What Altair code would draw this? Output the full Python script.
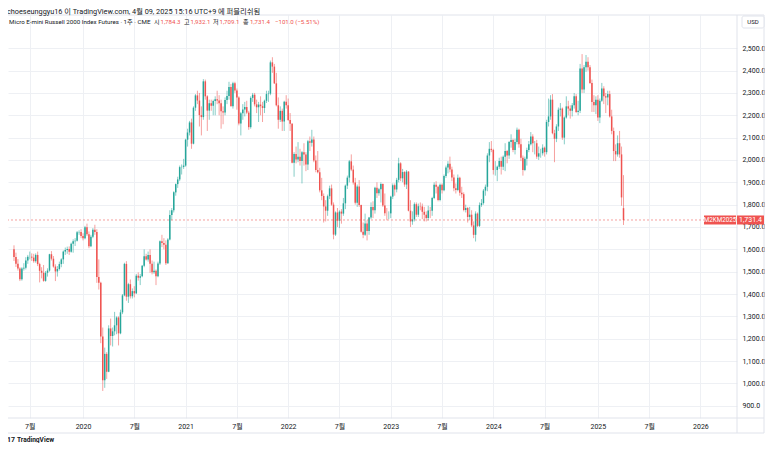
import altair as alt
import pandas as pd

# ---------------- data (weekly candles) ----------------
start_date = "2019-05-06"

opens_2019 = [1600,1566,1535,1514,1466,1514,1518,1550,1567,1567,1563,1547,1575,1534,1504,1495,1459,1495,1505,1578,1558,1523,1501,1512,1534,1555,1590,1597,1601,1589,1625,1636,1638,1676,1678]
highs_2019 = [1618,1585,1556,1520,1520,1538,1565,1575,1590,1582,1580,1582,1590,1540,1520,1530,1503,1515,1580,1592,1570,1533,1525,1545,1560,1595,1608,1612,1613,1630,1645,1650,1682,1685,1690]
lows_2019 = [1548,1521,1505,1458,1460,1505,1510,1535,1555,1548,1540,1540,1525,1452,1470,1455,1455,1478,1500,1550,1518,1458,1478,1505,1520,1535,1575,1580,1575,1585,1585,1615,1635,1665,1650]
closes_2019 = [1566,1535,1514,1466,1514,1518,1550,1567,1567,1563,1547,1575,1534,1504,1495,1459,1495,1505,1578,1558,1523,1501,1512,1534,1555,1590,1597,1601,1589,1625,1636,1638,1676,1678,1660]

opens_2020 = [1660,1650,1699,1667,1614,1656,1688,1678,1476,1450,1210,1014,1132,1052,1246,1212,1233,1260,1295,1224,1318,1394,1535,1388,1444,1390,1413,1403,1482,1473,1480,1526,1569,1554,1575,1536,1497,1504,1480,1537,1636,1628,1620,1538,1644,1754,1775,1855,1892,1913,1968,1969]
highs_2020 = [1672,1705,1715,1680,1665,1695,1710,1690,1555,1455,1250,1160,1140,1260,1290,1250,1320,1300,1300,1330,1400,1540,1547,1450,1465,1425,1435,1490,1497,1490,1530,1600,1580,1590,1600,1550,1545,1510,1545,1640,1665,1650,1640,1650,1775,1785,1860,1895,1925,1975,1980,2005]
lows_2020 = [1640,1645,1660,1605,1610,1650,1665,1450,1420,1180,966,980,1020,1050,1170,1165,1215,1220,1170,1220,1310,1390,1370,1360,1380,1380,1385,1400,1460,1440,1475,1520,1550,1545,1495,1488,1490,1440,1475,1530,1610,1600,1530,1535,1640,1730,1765,1840,1875,1905,1935,1960]
closes_2020 = [1650,1699,1667,1614,1656,1688,1678,1476,1450,1210,1014,1132,1052,1246,1212,1233,1260,1295,1224,1318,1394,1535,1388,1444,1390,1413,1403,1482,1473,1480,1526,1569,1554,1575,1536,1497,1504,1480,1537,1636,1628,1620,1538,1644,1754,1775,1855,1892,1913,1968,1969,1975]

opens_2021 = [1975,2091,2123,2168,2073,2234,2289,2266,2201,2192,2352,2285,2221,2254,2243,2264,2272,2266,2254,2218,2213,2268,2286,2327,2241,2343,2311,2280,2163,2209,2226,2237,2212,2147,2278,2292,2249,2236,2248,2241,2233,2265,2295,2297,2437,2418,2343,2245,2180,2220,2172,2261]
highs_2021 = [2095,2140,2175,2185,2240,2295,2310,2300,2240,2362,2360,2290,2270,2270,2270,2285,2310,2290,2270,2240,2280,2310,2350,2340,2350,2350,2320,2285,2215,2250,2260,2265,2220,2285,2300,2300,2270,2260,2285,2260,2270,2310,2310,2445,2460,2430,2390,2280,2240,2230,2265,2290]
lows_2021 = [1970,2060,2110,2050,2070,2220,2250,2150,2110,2180,2270,2130,2180,2220,2200,2200,2250,2200,2140,2160,2200,2250,2270,2240,2230,2300,2225,2155,2110,2180,2195,2205,2135,2140,2260,2240,2210,2170,2200,2170,2210,2255,2260,2290,2390,2340,2240,2140,2170,2130,2130,2230]
closes_2021 = [2091,2123,2168,2073,2234,2289,2266,2201,2192,2352,2285,2221,2254,2243,2264,2272,2266,2254,2218,2213,2268,2286,2327,2241,2343,2311,2280,2163,2209,2226,2237,2212,2147,2278,2292,2249,2236,2248,2241,2233,2265,2295,2297,2437,2418,2343,2245,2180,2220,2172,2261,2245]

opens_2022 = [2245,2179,2162,1988,2027,2002,2015,1996,2035,2024,1980,2084,2077,2092,1998,1955,1945,1864,1839,1792,1773,1838,1873,1800,1666,1765,1728,1769,1760,1806,1885,1921,1994,1957,1899,1809,1881,1798,1679,1665,1716,1682,1742,1790,1775,1876,1851,1869,1892,1796,1762,1761]
highs_2022 = [2275,2210,2165,2035,2060,2080,2050,2040,2075,2035,2090,2105,2135,2105,2020,2040,1965,1920,1850,1820,1845,1885,1890,1810,1770,1785,1775,1780,1830,1890,1930,2000,2025,1975,1920,1890,1910,1800,1720,1760,1730,1745,1810,1815,1880,1900,1875,1900,1895,1850,1785,1770]
lows_2022 = [2175,2130,1985,1925,1985,1990,1975,1895,1975,1950,1955,2040,2060,1990,1945,1940,1855,1820,1720,1725,1750,1825,1795,1645,1660,1700,1695,1715,1750,1780,1870,1900,1950,1890,1800,1790,1790,1675,1650,1660,1640,1665,1735,1740,1760,1830,1840,1810,1790,1750,1730,1735]
closes_2022 = [2179,2162,1988,2027,2002,2015,1996,2035,2024,1980,2084,2077,2092,1998,1955,1945,1864,1839,1792,1773,1838,1873,1800,1666,1765,1728,1769,1760,1806,1885,1921,1994,1957,1899,1809,1881,1798,1679,1665,1716,1682,1742,1790,1775,1876,1851,1869,1892,1796,1762,1761,1761]

opens_2023 = [1761,1836,1887,1868,1911,1985,1918,1946,1890,1948,1773,1725,1734,1802,1755,1793,1792,1768,1755,1740,1774,1773,1830,1889,1880,1821,1889,1864,1928,1966,1983,1957,1922,1873,1866,1921,1853,1847,1776,1785,1745,1755,1707,1665,1760,1705,1798,1807,1863,1880,2020,2050]
highs_2023 = [1840,1895,1895,1920,2010,1990,1960,1950,1955,1950,1820,1770,1810,1810,1805,1810,1805,1790,1770,1795,1790,1835,1900,1905,1885,1895,1895,1935,1975,1995,2015,1970,1935,1895,1935,1925,1880,1855,1800,1790,1790,1775,1725,1770,1765,1810,1825,1870,1890,2030,2080,2085]
lows_2023 = [1740,1825,1840,1855,1900,1905,1900,1880,1870,1770,1700,1710,1725,1745,1745,1775,1735,1725,1725,1730,1740,1750,1825,1850,1815,1815,1850,1860,1920,1940,1945,1905,1860,1850,1860,1840,1830,1770,1765,1720,1730,1700,1650,1635,1700,1700,1790,1800,1840,1860,1990,2035]
closes_2023 = [1836,1887,1868,1911,1985,1918,1946,1890,1948,1773,1725,1734,1802,1755,1793,1792,1768,1755,1740,1774,1773,1830,1889,1880,1821,1889,1864,1928,1966,1983,1957,1922,1873,1866,1921,1853,1847,1776,1785,1745,1755,1707,1665,1760,1705,1798,1807,1863,1880,2020,2050,2045]

opens_2024 = [2045,1955,1955,1970,1995,1970,2015,2040,2020,2080,2090,2045,2080,2135,2070,2010,1955,2005,2045,2070,2105,2075,2075,2015,2030,2030,2055,2035,2170,2195,2270,2120,2095,2150,2225,2230,2100,2190,2240,2230,2220,2245,2285,2215,2220,2410,2315,2415,2440,2415,2345,2260,2245]
highs_2024 = [2050,1995,1975,2010,2015,2020,2075,2045,2085,2115,2095,2095,2145,2140,2095,2020,2015,2055,2085,2125,2115,2085,2090,2060,2050,2070,2060,2180,2275,2290,2295,2135,2160,2235,2255,2235,2195,2285,2265,2245,2255,2300,2295,2265,2430,2474,2425,2470,2460,2425,2360,2290,2285]
lows_2024 = [1935,1930,1905,1960,1935,1955,1950,1985,2005,2055,2035,2025,2070,2055,1995,1930,1950,1975,2035,2065,2035,2025,2005,2000,2010,2020,2015,2025,2150,2180,2115,1990,2080,2130,2195,2090,2070,2185,2200,2185,2195,2230,2210,2200,2210,2300,2300,2395,2400,2340,2215,2215,2205]
closes_2024 = [1955,1955,1970,1995,1970,2015,2040,2020,2080,2090,2045,2080,2135,2070,2010,1955,2005,2045,2070,2105,2075,2075,2015,2030,2030,2055,2035,2170,2195,2270,2120,2095,2150,2225,2230,2100,2190,2240,2230,2220,2245,2285,2215,2220,2410,2315,2415,2440,2415,2345,2260,2245,2270]

opens_2025 = [2270,2190,2265,2320,2285,2280,2295,2195,2130,2040,2025,2075,2025,1784.3]
highs_2025 = [2290,2275,2345,2330,2300,2310,2310,2225,2145,2070,2110,2130,2060,1932.1]
lows_2025 = [2175,2165,2260,2250,2210,2245,2190,2115,1995,1995,2015,2010,1795,1709.1]
closes_2025 = [2190,2265,2320,2285,2280,2295,2195,2130,2040,2025,2075,2025,1832.4,1731.4]

opens = opens_2019 + opens_2020 + opens_2021 + opens_2022 + opens_2023 + opens_2024 + opens_2025
highs = highs_2019 + highs_2020 + highs_2021 + highs_2022 + highs_2023 + highs_2024 + highs_2025
lows = lows_2019 + lows_2020 + lows_2021 + lows_2022 + lows_2023 + lows_2024 + lows_2025
closes = closes_2019 + closes_2020 + closes_2021 + closes_2022 + closes_2023 + closes_2024 + closes_2025

# time-axis ticks (week index of first bar of the month) and their labels
tick_weeks = [8, 35, 61, 87, 113, 139, 165, 191, 217, 243, 269, 296, 322, 348]
tick_labels = ["7월", "2020", "7월", "2021", "7월", "2022", "7월", "2023", "7월", "2024", "7월", "2025", "7월", "2026"]
price_ticks = [900, 1000, 1100, 1200, 1300, 1400, 1500, 1600, 1700, 1800, 1900, 2000, 2100, 2200, 2300, 2400, 2500]

symbol = "M2KM2025"
title_text = "Micro E-mini Russell 2000 Index Futures · 1주 · CME"
header_text = "choeseunggyu16 이 TradingView.com, 4월 09, 2025 15:16 UTC+9 에 퍼블리쉬됨"

# ---------------- frame ----------------
n = len(closes)
assert len(opens) == len(highs) == len(lows) == n
df = pd.DataFrame({
    "week": list(range(n)),
    "date": pd.date_range(start_date, periods=n, freq="7D").strftime("%Y-%m-%d"),
    "open": opens, "high": highs, "low": lows, "close": closes,
})
df["dir"] = ["up" if c >= o else "down" for o, c in zip(opens, closes)]

UP = "#26a69a"
DOWN = "#ef5350"
TXT = "#131722"
GRID = "#eef0f4"
FRAME = "#e0e3eb"
FONT = "Roboto, 'Noto Sans CJK KR', sans-serif"

W, H = 729, 403
xs = alt.Scale(domain=[-0.5, 364], nice=False, zero=False)
ys = alt.Scale(domain=[845, 2649], nice=False, zero=False)
cs = alt.Scale(domain=["up", "down"], range=[UP, DOWN])

label_expr = " : ".join(f"datum.value == {w} ? '{l}'" for w, l in zip(tick_weeks, tick_labels)) + " : ''"

xaxis = alt.Axis(values=tick_weeks, labelExpr=label_expr, grid=True, gridColor=GRID, gridWidth=1,
                 domain=False, ticks=False, labelPadding=4, labelFontSize=7, labelColor=TXT,
                 labelFont=FONT, title=None, labelFlush=False, labelOverlap=False)
yaxis = alt.Axis(orient="right", values=price_ticks, format=",.1f", grid=True, gridColor=GRID,
                 gridWidth=1, domain=False, ticks=False, labelAlign="left", labelPadding=5,
                 labelFontSize=7, labelColor=TXT, labelFont=FONT, title=None,
                 labelOverlap=False, labelFlush=False, labelBound=False)

base = alt.Chart(df)
wicks = base.mark_rule(strokeWidth=1, opacity=0.55).encode(
    x=alt.X("week:Q", scale=xs, axis=xaxis),
    y=alt.Y("low:Q", scale=ys, axis=yaxis),
    y2="high:Q",
    color=alt.Color("dir:N", scale=cs, legend=None),
)
bodies = base.mark_bar(size=1.5).encode(
    x=alt.X("week:Q", scale=xs, axis=xaxis),
    y=alt.Y("open:Q", scale=ys, axis=yaxis),
    y2="close:Q",
    color=alt.Color("dir:N", scale=cs, legend=None),
)

last_close = closes[-1]
prev_close = closes[-2]
chg = last_close - prev_close
pct = chg / prev_close * 100
last_df = pd.DataFrame({"price": [last_close], "sym": [symbol], "lbl": [f"{last_close:,.1f}"]})
lastc = alt.Chart(last_df)
ylast = alt.Y("price:Q", scale=ys, axis=yaxis)
price_line = lastc.mark_rule(strokeDash=[2, 2], color=DOWN, opacity=0.55, strokeWidth=1).encode(y=ylast)
sym_box = lastc.mark_rect(color=DOWN, height=9).encode(x=alt.value(696), x2=alt.value(728), y=ylast)
val_box = lastc.mark_rect(color=DOWN, height=9).encode(x=alt.value(729), x2=alt.value(756), y=ylast)
sym_txt = lastc.mark_text(color="white", fontSize=6.3, font=FONT, baseline="middle", align="center").encode(
    x=alt.value(712), y=ylast, text="sym:N")
val_txt = lastc.mark_text(color="white", fontSize=7, font=FONT, baseline="middle", align="center").encode(
    x=alt.value(742.5), y=ylast, text="lbl:N")

one = alt.Data(values=[{"k": 0}])


def txt(s, x, y, color=TXT, size=6.1, weight="normal", align="left", baseline="middle"):
    return alt.Chart(one).mark_text(text=s, color=color, fontSize=size, fontWeight=weight, font=FONT,
                                    align=align, baseline=baseline).encode(x=alt.value(x), y=alt.value(y))


def rule(x, x2, y, y2):
    return alt.Chart(one).mark_rule(color=FRAME, strokeWidth=1).encode(
        x=alt.value(x), x2=alt.value(x2), y=alt.value(y), y2=alt.value(y2))


frame = [
    rule(-8, 756, 0, 0),
    rule(-8, 756, H, H),
    rule(-8, 756, 418, 418),
    rule(W, W, 0, 418),
    rule(756, 756, 0, 418),
]

usd_box = alt.Chart(one).mark_rect(fill="white", stroke=FRAME, strokeWidth=1, cornerRadius=2).encode(
    x=alt.value(734), x2=alt.value(756), y=alt.value(1), y2=alt.value(13))

legend_y = 6.7
texts = [
    txt(header_text, -1, -7, size=7.3, baseline="top"),
    txt(title_text, 1, legend_y, size=6.2),
    txt("시", 146, legend_y), txt(f"{opens[-1]:,.1f}", 152.5, legend_y, color=DOWN),
    txt("고", 176, legend_y), txt(f"{highs[-1]:,.1f}", 182.5, legend_y, color=DOWN),
    txt("저", 205, legend_y), txt(f"{lows[-1]:,.1f}", 211.5, legend_y, color=DOWN),
    txt("종", 235, legend_y), txt(f"{last_close:,.1f}", 242, legend_y, color=DOWN),
    txt(f"{chg:+.1f} ({pct:+.2f}%)".replace("-", "−"), 267, legend_y, color=DOWN),
    txt("USD", 745, 7, size=6, align="center"),
    txt("17", -1, 425, size=7, weight="bold"),
    txt("TradingView", 9, 425, size=6.6, weight="bold"),
]

chart = alt.layer(
    wicks, bodies, price_line, *frame, sym_box, val_box, sym_txt, val_txt, usd_box, *texts
).properties(
    width=W, height=H,
    autosize=alt.AutoSizeParams(type="none"),
    padding={"left": 0, "top": 7, "right": 28, "bottom": 25},
    background="white",
).configure_view(stroke=None)

chart.save("out.html", embed_options={"renderer": "svg", "actions": False})
